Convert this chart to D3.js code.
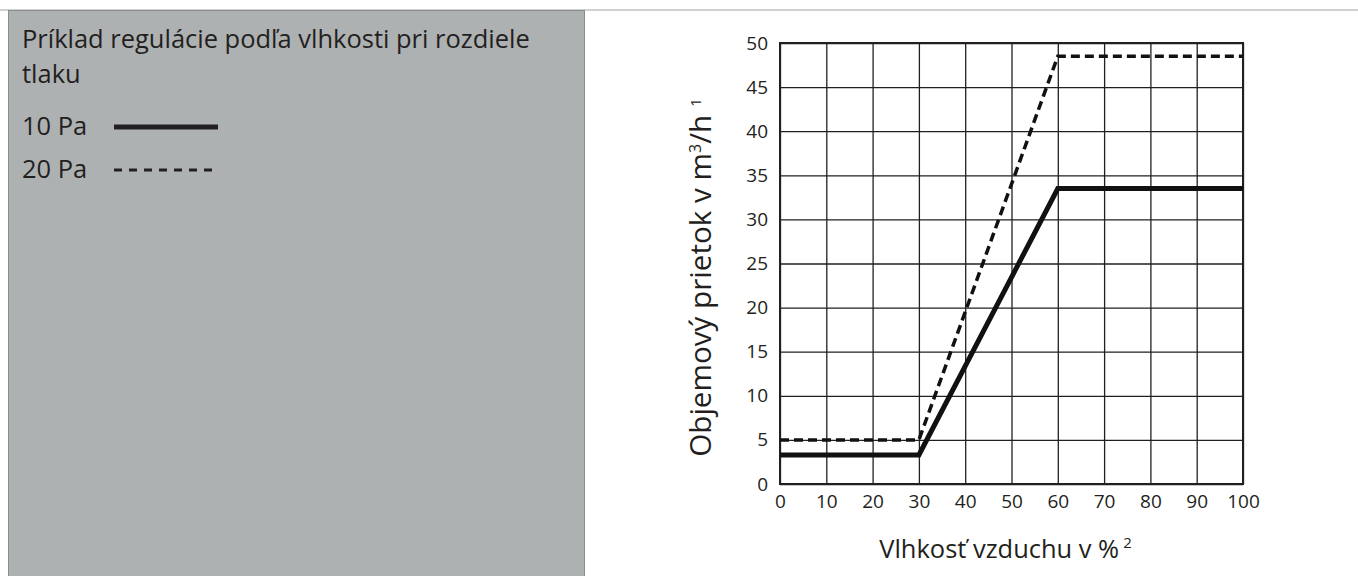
<!DOCTYPE html>
<html>
<head>
<meta charset="utf-8">
<script src="https://cdn.jsdelivr.net/npm/d3@7"></script>
<style>
  body { margin:0; background:#fff; }
  svg { display:block; font-family: "Open Sans", sans-serif; }
</style>
</head>
<body>
<div id="chart"></div>
<script>
// data
var humidity = [0, 30, 60, 100];
var flow10Pa = [3.3, 3.3, 33.5, 33.5];
var flow20Pa = [5, 5, 48.5, 48.5];
var xTickValues = [0,10,20,30,40,50,60,70,80,90,100];
var yTickValues = [0,5,10,15,20,25,30,35,40,45,50];
var titleLines = ["Príklad regulácie podľa vlhkosti pri rozdiele", "tlaku"];
var legendLabels = ["10 Pa", "20 Pa"];

var W = 1358, H = 576;
var margin = {top:43, left:780, right:W-1243, bottom:H-484}
  , width = W - margin.left - margin.right
  , height = H - margin.top - margin.bottom;

var svg = d3.select("#chart").append("svg")
  .attr("width", W).attr("height", H);

// scale a text node's font so it spans roughly the wanted width
function fitFont(sel, base, wanted){
  sel.style("font-size", base + "px");
  var w = sel.node().getComputedTextLength();
  return base * wanted / w;
}

// top rule + grey info panel
svg.append("line")
  .attr("x1",0).attr("x2",W).attr("y1",10).attr("y2",10)
  .attr("stroke","#d0d0d0").attr("stroke-width",2);

svg.append("rect")
  .attr("x",8.5).attr("y",10.5).attr("width",576).attr("height",H)
  .attr("fill","#aeb1b2").attr("stroke","#8a8d8e").attr("stroke-width",1);

var panel = svg.append("g").attr("fill","#231f20");
var titles = panel.selectAll(".title")
  .data(titleLines)
  .enter().append("text")
  .attr("class","title")
  .attr("x",22)
  .attr("y",function(d,i){ return 48 + i*35; })
  .text(function(d){ return d; });
var fs = fitFont(d3.select(titles.nodes()[0]), 20, 508);
panel.style("font-size", fs + "px");
titles.style("font-size", null);

var legend = panel.selectAll(".leg")
  .data(legendLabels)
  .enter().append("g")
  .attr("class","leg")
  .attr("transform",function(d,i){ return "translate(22," + (135 + i*43) + ")"; });
legend.append("text").text(function(d){ return d; });
legend.append("line")
  .attr("x1",92).attr("x2",196).attr("y1",-8).attr("y2",-8)
  .attr("stroke","#231f20")
  .attr("stroke-width",function(d,i){ return i==0 ? 5 : 3; })
  .attr("stroke-dasharray",function(d,i){ return i==0 ? null : "8,7"; });

// chart
var g = svg.append("g").attr("transform","translate("+margin.left+","+margin.top+")");

var xScale = d3.scaleLinear().domain([0,100]).range([0,width]);
var yScale = d3.scaleLinear().domain([0,50]).range([height,0]);

var xAxis = g.append("g")
  .attr("transform","translate(0,"+height+")")
  .call(d3.axisBottom(xScale).tickValues(xTickValues).tickSize(-height).tickPadding(11));
var yAxis = g.append("g")
  .call(d3.axisLeft(yScale).tickValues(yTickValues).tickSize(-width).tickPadding(12));

[xAxis, yAxis].forEach(function(a){
  a.select(".domain").remove();
  a.selectAll(".tick line").attr("stroke","#231f20").attr("stroke-width",1.3);
  a.selectAll(".tick text")
    .attr("fill","#231f20")
    .style("font-size","19px")
    .style("font-family","'Open Sans', sans-serif");
});

g.append("rect")
  .attr("width",width).attr("height",height)
  .attr("fill","none").attr("stroke","#231f20").attr("stroke-width",2);

var line = d3.line()
  .x(function(d){ return xScale(d[0]); })
  .y(function(d){ return yScale(d[1]); });

g.append("path")
  .datum(d3.zip(humidity, flow20Pa))
  .attr("fill","none").attr("stroke","#111")
  .attr("stroke-width",3.5).attr("stroke-dasharray","9,5")
  .attr("d",line);

g.append("path")
  .datum(d3.zip(humidity, flow10Pa))
  .attr("fill","none").attr("stroke","#111")
  .attr("stroke-width",5).attr("stroke-linejoin","miter")
  .attr("d",line);

// axis titles
var xt = svg.append("text")
  .attr("x", margin.left + width/2 - 6).attr("y", 558)
  .attr("text-anchor","middle").attr("fill","#231f20");
xt.append("tspan").attr("class","main").text("Vlhkosť vzduchu v %");
xt.append("tspan").attr("dx",4).attr("dy",-10).style("font-size","15px").text("2");
var xfs = fitFont(xt, 22, 250);
xt.style("font-size", xfs + "px");

var yt = svg.append("text")
  .attr("transform","translate(711,"+(margin.top + height/2 + 14)+") rotate(-90)")
  .attr("text-anchor","middle").attr("fill","#231f20");
yt.append("tspan").text("Objemový prietok v m");
yt.append("tspan").attr("dy",-10).style("font-size","16px").text("3");
yt.append("tspan").attr("dy",10).text("/h");
yt.append("tspan").attr("dx",8).attr("dy",-10).style("font-size","15px").text("1");
var yfs = fitFont(yt, 22, 357);
yt.style("font-size", yfs + "px");
</script>
</body>
</html>
